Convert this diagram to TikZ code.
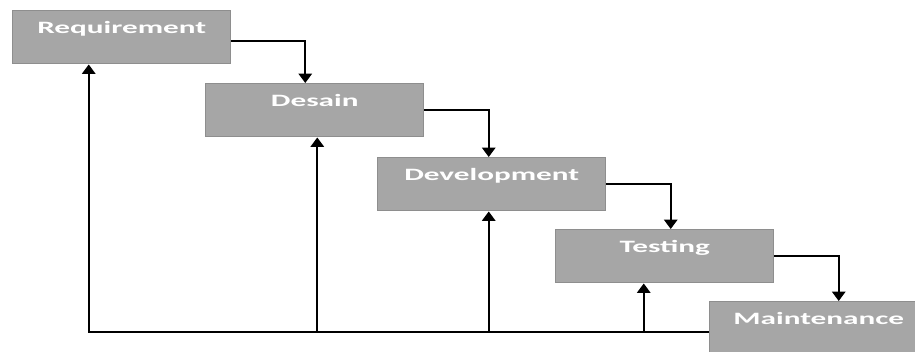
\documentclass[tikz,border=0pt]{standalone}
\usepackage{fontspec}
\setmainfont{Carlito}
\usetikzlibrary{arrows.meta}

\definecolor{boxfill}{HTML}{A6A6A6}
\definecolor{boxline}{HTML}{8E8E8E}
\newcommand{\widelabel}[1]{\scalebox{1.8}[1]{#1}}

\tikzset{
  phase/.style={draw=boxline, fill=boxfill, line width=1.1pt, anchor=north west,
    minimum width=163.5pt, inner sep=0pt, text height=17.25pt, text depth=22.5pt,
    text=white, font=\fontsize{13pt}{15pt}\selectfont\bfseries},
  flow/.style={line width=1.3pt, -{Triangle[width=10pt,length=7pt]}}
}

\begin{document}
\begin{tikzpicture}[x=0.75pt, y=-0.75pt]
\useasboundingbox (0,0) rectangle (915,351);
% phases
\node[phase] (req) at (12,10)   {\widelabel{Requirement}};
\node[phase] (des) at (205,83)  {\widelabel{Desain}};
\node[phase, minimum width=171pt] (dev) at (377,157) {\widelabel{Development}};
\node[phase] (tst) at (555,229) {\widelabel{Testing}};
\node[phase] (mnt) at (709,301) {\widelabel{Maintenance}};
% forward flow
\draw[flow] ([yshift=-2.6pt]req.east) -| ([xshift=-7.1pt]des.north);
\draw[flow] (des.east) -| ([xshift=-2.25pt]dev.north);
\draw[flow] (dev.east) -| ([xshift=4.5pt]tst.north);
\draw[flow] (tst.east) -| ([xshift=15pt]mnt.north);
% feedback
\coordinate (base)  at ([yshift=-2.6pt]mnt.west);
\coordinate (desin) at ([xshift=1.9pt]des.south);
\coordinate (devin) at ([xshift=-2.25pt]dev.south);
\coordinate (tstin) at ([xshift=-15.75pt]tst.south);
\draw[flow] (base) -| ([xshift=-24.75pt]req.south);
\draw[flow] (desin |- base) -- (desin);
\draw[flow] (devin |- base) -- (devin);
\draw[flow] (tstin |- base) -- (tstin);
\end{tikzpicture}
\end{document}
